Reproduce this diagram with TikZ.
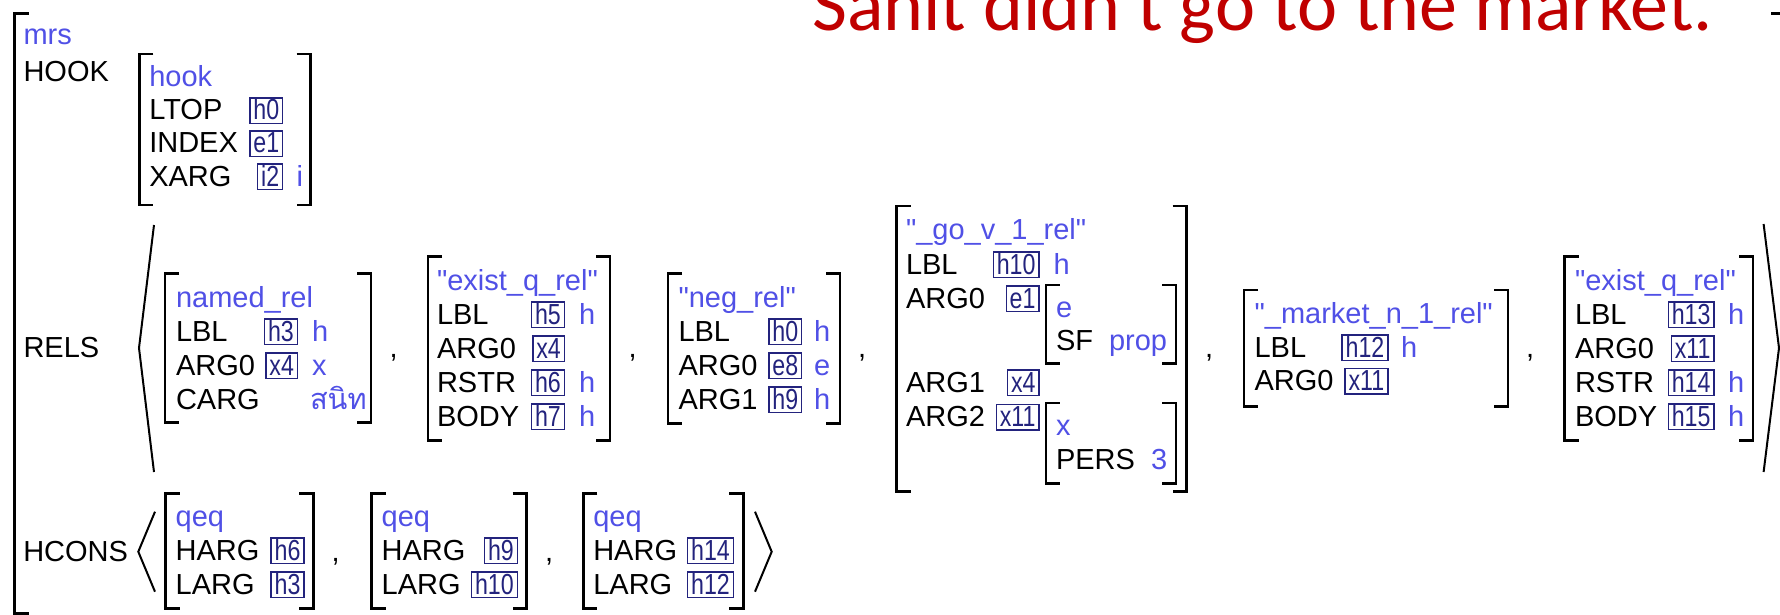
\documentclass[tikz,border=0pt]{standalone}
\usepackage{fontspec}
\setmainfont{Liberation Sans}
\newfontfamily\boxfont[FakeStretch=0.8]{Liberation Sans}
\newfontfamily\thaifont[Script=Thai]{Loma}
\newfontfamily\titlefont{Carlito}
\font\qfnt="Liberation Sans" at 29pt
\newcommand\qq{{\qfnt\char"22}}
\definecolor{tblue}{RGB}{80,80,230}
\definecolor{bnavy}{RGB}{35,35,125}
\definecolor{tred}{RGB}{192,0,0}
\tikzset{
  ft/.style={anchor=base west, inner sep=0pt, outer sep=0pt, font=\fontsize{29}{33}\selectfont, text=black},
  ty/.style={ft, text=tblue},
  bx/.style={anchor=base east, draw=bnavy, line width=1.4pt, text=bnavy, font=\boxfont\fontsize{29}{33}\selectfont, inner xsep=3.5pt, inner ysep=0pt, outer sep=0pt, text height=22pt, text depth=3.5pt},
  brk/.style={line width=2.6pt, line cap=butt, line join=miter},
  ang/.style={line width=2pt, line join=miter},
  ttl/.style={anchor=base west, inner sep=0pt, text=tred, font=\titlefont\fontsize{76}{84}\selectfont}
}
\newcommand\avmbr[4]{%
  \draw[brk] (#1+14,#3) -- (#1,#3) -- (#1,#4) -- (#1+14,#4);
  \draw[brk] (#2-14,#3) -- (#2,#3) -- (#2,#4) -- (#2-14,#4);}
\begin{document}
\begin{tikzpicture}[x=1pt,y=-1pt]
\useasboundingbox (0,0) rectangle (1780,615);
\clip (0,0) rectangle (1780,615);
% title
\node[ttl] (title) at (812,31) {Sanit didn't go to the market.};
% outer bracket
\draw[brk] (28.7,13.3) -- (14.5,13.3) -- (14.5,613.5) -- (28.7,613.5);
\draw[brk] (1771,13.3) -- (1785,13.3);
\node[ty] (mrs) at (23.5,45) {mrs};
% HOOK
\node[ft] (hookF) at (23.5,82) {HOOK};
\avmbr{139.3}{310.7}{54}{205}
\node[ty] (hookT) at (149.3,87) {hook};
\node[ft] (ltop) at (149.3,120) {LTOP};
\node[ft] (index) at (149.3,153) {INDEX};
\node[ft] (xarg) at (149.3,186) {XARG};
\node[bx] (hbA) at (282.7,120) {h0};
\node[bx] (hbB) at (282.7,153) {e1};
\node[bx] (hbC) at (282.7,186) {i2};
\node[ty] (hvi) at (296.7,186) {i};
% RELS
\node[ft] (rels) at (23.5,357) {RELS};
\draw[ang] (154,225) -- (139,348) -- (154,472);
\draw[ang] (1763.6,224) -- (1779,348) -- (1763.6,472);
% named_rel
\avmbr{165}{371}{273.3}{422.7}
\node[ty] (aT) at (176,307) {named\_rel};
\node[ft] (aF1) at (176,341) {LBL};
\node[ft] (aF2) at (176,375) {ARG0};
\node[ft] (aF3) at (176,409) {CARG};
\node[bx] (aB1) at (297.4,341) {h3};
\node[bx] (aB2) at (297.4,375) {x4};
\node[ty] (aV1) at (312,341) {h};
\node[ty] (aV2) at (312,375) {x};
\node[ty] (aV3) at (310,409) {\thaifont สนิท};
\node[ft] (c1) at (389.5,357) {,};
% exist_q_rel
\avmbr{428}{610}{256.7}{440.3}
\node[ty] (bT) at (437,290) {\qq exist\_q\_rel\qq};
\node[ft] (bF1) at (437,324) {LBL};
\node[ft] (bF2) at (437,358) {ARG0};
\node[ft] (bF3) at (437,392) {RSTR};
\node[ft] (bF4) at (437,426) {BODY};
\node[bx] (bB1) at (564.3,324) {h5};
\node[bx] (bB2) at (564.3,358) {x4};
\node[bx] (bB3) at (564.3,392) {h6};
\node[bx] (bB4) at (564.3,426) {h7};
\node[ty] (bV1) at (579,324) {h};
\node[ty] (bV3) at (579,392) {h};
\node[ty] (bV4) at (579,426) {h};
\node[ft] (c2) at (628.7,357) {,};
% neg_rel
\avmbr{668}{840}{273.3}{423.3}
\node[ty] (cT) at (678.5,307) {\qq neg\_rel\qq};
\node[ft] (cF1) at (678.5,341) {LBL};
\node[ft] (cF2) at (678.5,375) {ARG0};
\node[ft] (cF3) at (678.5,409) {ARG1};
\node[bx] (cB1) at (801.7,341) {h0};
\node[bx] (cB2) at (801.7,375) {e8};
\node[bx] (cB3) at (801.7,409) {h9};
\node[ty] (cV1) at (814,341) {h};
\node[ty] (cV2) at (814,375) {e};
\node[ty] (cV3) at (814,409) {h};
\node[ft] (c3) at (858,357) {,};
% _go_v_1_rel
\avmbr{896.6}{1186.5}{206}{491.7}
\node[ty] (dT) at (906,239) {\qq\_go\_v\_1\_rel\qq};
\node[ft] (dF1) at (906,274) {LBL};
\node[ft] (dF2) at (906,308) {ARG0};
\node[ft] (dF3) at (906,392) {ARG1};
\node[ft] (dF4) at (906,426.5) {ARG2};
\node[bx] (dB1) at (1039,274) {h10};
\node[bx] (dB2) at (1039,308) {e1};
\node[bx] (dB3) at (1039,392) {x4};
\node[bx] (dB4) at (1039,426.5) {x11};
\node[ty] (dV1) at (1053.5,274) {h};
\avmbr{1045.8}{1176}{285}{363.5}
\node[ty] (eT) at (1056,317) {e};
\node[ft] (eF) at (1056,350.5) {SF};
\node[ty] (eV) at (1109,350.5) {prop};
\avmbr{1045.8}{1176}{403}{483.5}
\node[ty] (xT) at (1056,435.5) {x};
\node[ft] (xF) at (1056,469) {PERS};
\node[ty] (xV) at (1151,469) {3};
\node[ft] (c4) at (1205,357) {,};
% _market_n_1_rel
\avmbr{1244}{1508}{290}{406.7}
\node[ty] (fT) at (1254.6,323.5) {\qq\_market\_n\_1\_rel\qq};
\node[ft] (fF1) at (1254.6,357) {LBL};
\node[ft] (fF2) at (1254.6,390.5) {ARG0};
\node[bx] (fB1) at (1387.8,357) {h12};
\node[bx] (fB2) at (1387.8,390.5) {x11};
\node[ty] (fV1) at (1401,357) {h};
\node[ft] (c5) at (1526,357) {,};
% exist_q_rel 2
\avmbr{1564.6}{1753}{256.7}{440.7}
\node[ty] (gT) at (1575,290) {\qq exist\_q\_rel\qq};
\node[ft] (gF1) at (1575,324) {LBL};
\node[ft] (gF2) at (1575,358) {ARG0};
\node[ft] (gF3) at (1575,392) {RSTR};
\node[ft] (gF4) at (1575,426) {BODY};
\node[bx] (gB1) at (1714,324) {h13};
\node[bx] (gB2) at (1714,358) {x11};
\node[bx] (gB3) at (1714,392) {h14};
\node[bx] (gB4) at (1714,426) {h15};
\node[ty] (gV1) at (1728,324) {h};
\node[ty] (gV3) at (1728,392) {h};
\node[ty] (gV4) at (1728,426) {h};
% HCONS
\node[ft] (hcons) at (23.3,561) {HCONS};
\draw[ang] (155,511.7) -- (138.3,551.7) -- (155,591.7);
\avmbr{165.7}{313.3}{493.3}{608.3}
\node[ty] (q1T) at (175.7,526) {qeq};
\node[ft] (q1F1) at (175.7,560) {HARG};
\node[ft] (q1F2) at (175.7,594) {LARG};
\node[bx] (q1B1) at (304,560) {h6};
\node[bx] (q1B2) at (304,594) {h3};
\node[ft] (c6) at (331.7,561) {,};
\avmbr{371.7}{526.7}{493.3}{608.3}
\node[ty] (q2T) at (381.7,526) {qeq};
\node[ft] (q2F1) at (381.7,560) {HARG};
\node[ft] (q2F2) at (381.7,594) {LARG};
\node[bx] (q2B1) at (517.3,560) {h9};
\node[bx] (q2B2) at (517.3,594) {h10};
\node[ft] (c7) at (545,561) {,};
\avmbr{583.3}{743.3}{493.3}{608.3}
\node[ty] (q3T) at (593.3,526) {qeq};
\node[ft] (q3F1) at (593.3,560) {HARG};
\node[ft] (q3F2) at (593.3,594) {LARG};
\node[bx] (q3B1) at (733.3,560) {h14};
\node[bx] (q3B2) at (733.3,594) {h12};
\draw[ang] (755,511.7) -- (771.7,551.7) -- (755,591.7);
\end{tikzpicture}
\end{document}
